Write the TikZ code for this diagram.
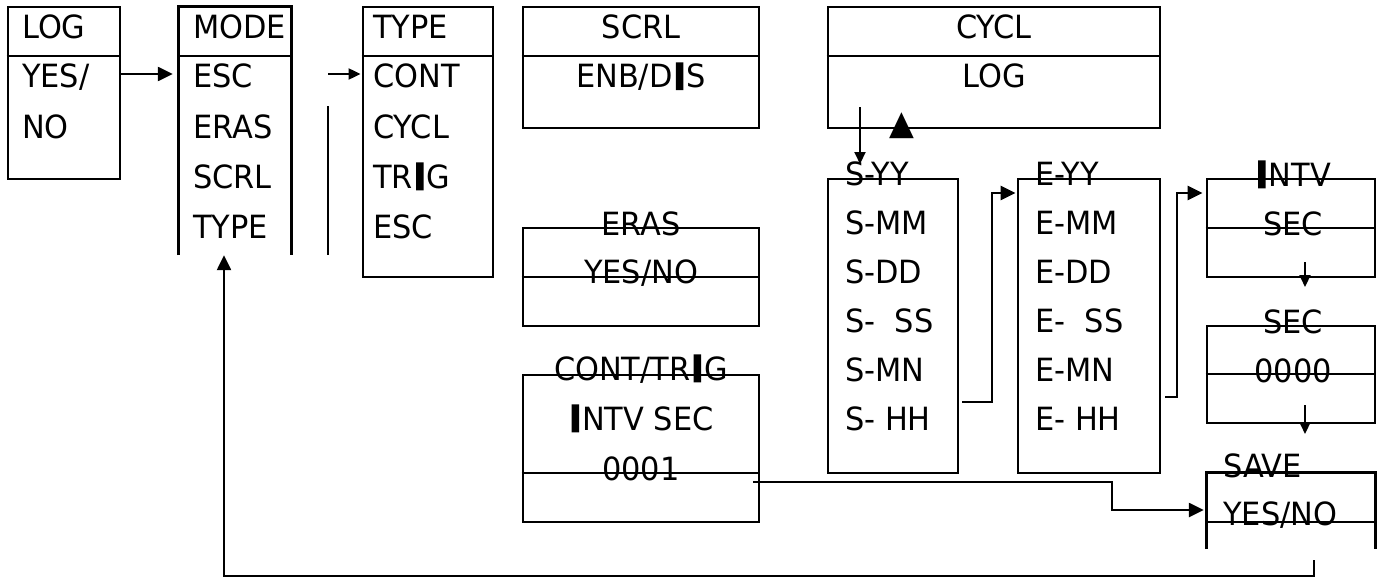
\documentclass[tikz,border=0pt]{standalone}
\usepackage{fontspec}
\setmainfont{DejaVu Sans}[FakeStretch=0.95]
\newfontfamily\heavyfont[FakeBold=14,FakeStretch=0.95]{DejaVu Sans}
\usetikzlibrary{arrows.meta}
\newcommand\HI{\kern2.5pt{\heavyfont I}\kern2.5pt}
\tikzset{
  box/.style={draw, line width=2.8pt, rectangle, inner sep=0pt},
  openbox/.style={rectangle, inner sep=0pt},
  div/.style={line width=2.8pt},
  txt/.style={inner sep=0pt, anchor=base west, font=\fontsize{32}{36}\selectfont},
  ctxt/.style={inner sep=0pt, anchor=base, font=\fontsize{32}{36}\selectfont},
  arr/.style={line width=2.4pt, -{Triangle[length=15pt,width=14pt]}},
  sarr/.style={line width=2pt, -{Triangle[length=12pt,width=11pt]}},
}
\begin{document}
\begin{tikzpicture}[x=1pt,y=-1pt]
\useasboundingbox (0,0) rectangle (1386,578);
% ---------- boxes ----------
\node[box, minimum width=112pt, minimum height=172pt] (log) at (64,93) {};
\draw[div] (log.west |- 0,56) -- (log.east |- 0,56);
\node[openbox, minimum width=112pt, minimum height=248pt] (mode) at (235,131) {};
\draw[div] (mode.south west) -- (mode.north west) -- (mode.north east) -- (mode.south east);
\draw[div] (mode.west |- 0,56) -- (mode.east |- 0,56);
\coordinate (vl) at (328,106);
\draw[div] (vl) -- (328,255);
\node[box, minimum width=130pt, minimum height=270pt] (type) at (428,142) {};
\draw[div] (type.west |- 0,56) -- (type.east |- 0,56);
\node[box, minimum width=236pt, minimum height=121pt] (scrl) at (641,67.5) {};
\draw[div] (scrl.west |- 0,56) -- (scrl.east |- 0,56);
\node[box, minimum width=332pt, minimum height=121pt] (cycl) at (994,67.5) {};
\draw[div] (cycl.west |- 0,56) -- (cycl.east |- 0,56);
\node[box, minimum width=236pt, minimum height=98pt] (eras) at (641,277) {};
\draw[div] (eras.west |- 0,277) -- (eras.east |- 0,277);
\node[box, minimum width=236pt, minimum height=147pt] (cont) at (641,448.5) {};
\draw[div] (cont.west |- 0,473) -- (cont.east |- 0,473);
\node[box, minimum width=130pt, minimum height=294pt] (sbox) at (893,326) {};
\node[box, minimum width=142pt, minimum height=294pt] (ebox) at (1089,326) {};
\node[box, minimum width=168pt, minimum height=98pt] (intv) at (1291,228) {};
\draw[div] (intv.west |- 0,228) -- (intv.east |- 0,228);
\node[box, minimum width=168pt, minimum height=97pt] (sec) at (1291,374.5) {};
\draw[div] (sec.west |- 0,374) -- (sec.east |- 0,374);
\node[openbox, minimum width=168pt, minimum height=76pt] (save) at (1291,511) {};
\draw[div] (save.south west) -- (save.north west) -- (save.north east) -- (save.south east);
\draw[div] (save.west |- 0,522) -- (save.east |- 0,522);
% ---------- texts ----------
\node[txt] (lt1) at (22,38) {LOG};
\node[txt] (lt2) at (22,88) {YES/};
\node[txt] (lt3) at (22,138) {NO};
\node[txt] (mt1) at (193,38) {MODE};
\node[txt] (mt2) at (193,88) {ESC};
\node[txt] (mt3) at (193,138) {ERAS};
\node[txt] (mt4) at (193,188) {SCRL};
\node[txt] (mt5) at (193,238) {TYPE};
\node[txt] (tt1) at (373,38) {TYPE};
\node[txt] (tt2) at (373,88) {CONT};
\node[txt] (tt3) at (373,138) {CYCL};
\node[txt] (tt4) at (373,188) {TR\HI G};
\node[txt] (tt5) at (373,238) {ESC};
\node[ctxt] (st1) at (641,38) {SCRL};
\node[ctxt] (st2) at (641,88) {ENB/D\HI S};
\node[ctxt] (ct1) at (994,38) {CYCL};
\node[ctxt] (ct2) at (994,88) {LOG};
\node[inner sep=0pt, font=\fontsize{34}{34}\selectfont] (tri) at (902,126) {▲};
\node[txt] (s1) at (845,185) {S-YY};
\node[txt] (s2) at (845,234) {S-MM};
\node[txt] (s3) at (845,283) {S-DD};
\node[txt] (s4) at (845,332) {S-\ \ SS};
\node[txt] (s5) at (845,381) {S-MN};
\node[txt] (s6) at (845,430) {S-\ HH};
\node[txt] (e1) at (1035,185) {E-YY};
\node[txt] (e2) at (1035,234) {E-MM};
\node[txt] (e3) at (1035,283) {E-DD};
\node[txt] (e4) at (1035,332) {E-\ \ SS};
\node[txt] (e5) at (1035,381) {E-MN};
\node[txt] (e6) at (1035,430) {E-\ HH};
\node[ctxt] (it1) at (1293,186) {\HI NTV};
\node[ctxt] (it2) at (1293,235) {SEC};
\node[ctxt] (sc1) at (1293,333) {SEC};
\node[ctxt] (sc2) at (1293,382) {0000};
\node[txt] (sv1) at (1223,477) {SAVE};
\node[txt] (sv2) at (1223,525) {YES/NO};
\node[ctxt] (er1) at (641,235) {ERAS};
\node[ctxt] (er2) at (641,283) {YES/NO};
\node[ctxt] (co1) at (641,380) {CONT/TR\HI G};
\node[ctxt] (co2) at (641,430) {\HI NTV SEC};
\node[ctxt] (co3) at (641,480) {0001};
% ---------- connectors ----------
\coordinate (a1) at (120,74);
\draw[arr, shorten >=6pt] (a1) -- (mode.west |- a1);
\draw[sarr, shorten >=1pt] (vl |- a1) -- (type.west |- a1);
\coordinate (d1) at (860,107);
\coordinate (d2) at (860,164);
\draw[sarr] (d1) -- (d2);
\coordinate (p1) at (962,402);
\coordinate (k1) at (992,193);
\draw[arr, shorten >=1pt] (p1) -| (k1) -- (ebox.west |- k1);
\coordinate (p2) at (1165,397);
\coordinate (k2) at (1177,193);
\draw[arr, shorten >=3pt] (p2) -| (k2) -- (intv.west |- k2);
\coordinate (v1) at (1305,262);
\coordinate (v2) at (1305,287);
\draw[sarr] (v1) -- (v2);
\coordinate (v3) at (1305,405);
\coordinate (v4) at (1305,434);
\draw[sarr] (v3) -- (v4);
\coordinate (c1) at (753,482);
\coordinate (k3) at (1112,510);
\draw[arr, shorten >=3pt] (c1) -| (k3) -- (save.west |- k3);
\coordinate (f1) at (1314,560);
\coordinate (f2) at (224,576);
\draw[arr] (f1) |- (f2) -- (f2 |- mode.south);
\end{tikzpicture}
\end{document}
